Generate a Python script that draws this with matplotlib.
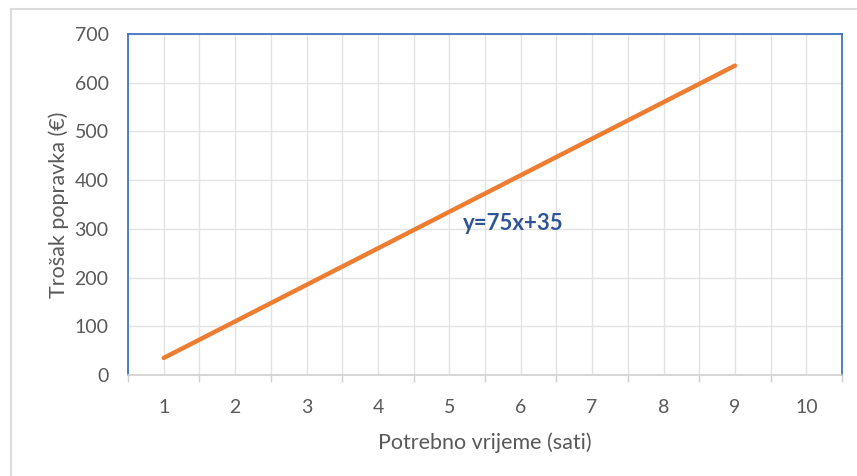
import matplotlib.pyplot as plt
from matplotlib.lines import Line2D

plt.rcParams['font.family'] = ['Lato', 'DejaVu Sans']

hours = [1, 2, 3, 4, 5, 6, 7, 8, 9, 10]
cost_hours = [1, 2, 3, 4, 5, 6, 7, 8, 9]
cost = [35, 110, 185, 260, 335, 410, 485, 560, 635]
y_ticks = [0, 100, 200, 300, 400, 500, 600, 700]

grey_txt = '#595959'
grid_c = '#e3e3e3'
blue = '#4472c4'

fig = plt.figure(figsize=(8.57, 4.76), dpi=100)
ax = fig.add_axes([0.1494, 0.2122, 0.8331, 0.7164])

ax.plot(cost_hours, cost, color='#ed7d31', lw=3.2, solid_capstyle='round', zorder=3)

ax.set_xlim(0.5, 10.5)
ax.set_ylim(0, 700)
ax.set_xticks(hours)
ax.set_xticks([h + 0.5 for h in range(0, 11)], minor=True)
ax.set_yticks(y_ticks)
ax.grid(True, which='both', axis='x', color=grid_c, lw=1)
ax.grid(True, which='major', axis='y', color=grid_c, lw=1)
ax.set_axisbelow(True)

ax.tick_params(axis='x', which='major', length=0, pad=17, labelsize=14, colors=grey_txt)
ax.tick_params(axis='x', which='minor', length=5, width=1, color='#d0d0d0', direction='out')
ax.tick_params(axis='y', length=0, pad=14, labelsize=14, colors=grey_txt)

for s in ['left', 'top', 'right']:
    ax.spines[s].set_color(blue)
    ax.spines[s].set_linewidth(1.3)
ax.spines['bottom'].set_color('#d0d0d0')
ax.spines['bottom'].set_linewidth(1.2)

ax.set_xlabel('Potrebno vrijeme (sati)', fontsize=15.5, color=grey_txt, labelpad=12)
ax.set_ylabel('Trošak popravka (€)', fontsize=15.5, color=grey_txt, labelpad=4)

ax.text(5.19, 312, 'y=75x+35', fontsize=16, fontweight='bold', color='#2f5597',
        ha='left', va='center')

# light chart-area border seen in the screenshot
fig.add_artist(Line2D([11 / 857, 1], [1 - 9 / 476, 1 - 9 / 476], transform=fig.transFigure,
                      color='#dcdcdc', lw=1.5))
fig.add_artist(Line2D([11 / 857, 11 / 857], [0, 1 - 9 / 476], transform=fig.transFigure,
                      color='#dcdcdc', lw=1.5))

fig.savefig('out.png', dpi=100)
